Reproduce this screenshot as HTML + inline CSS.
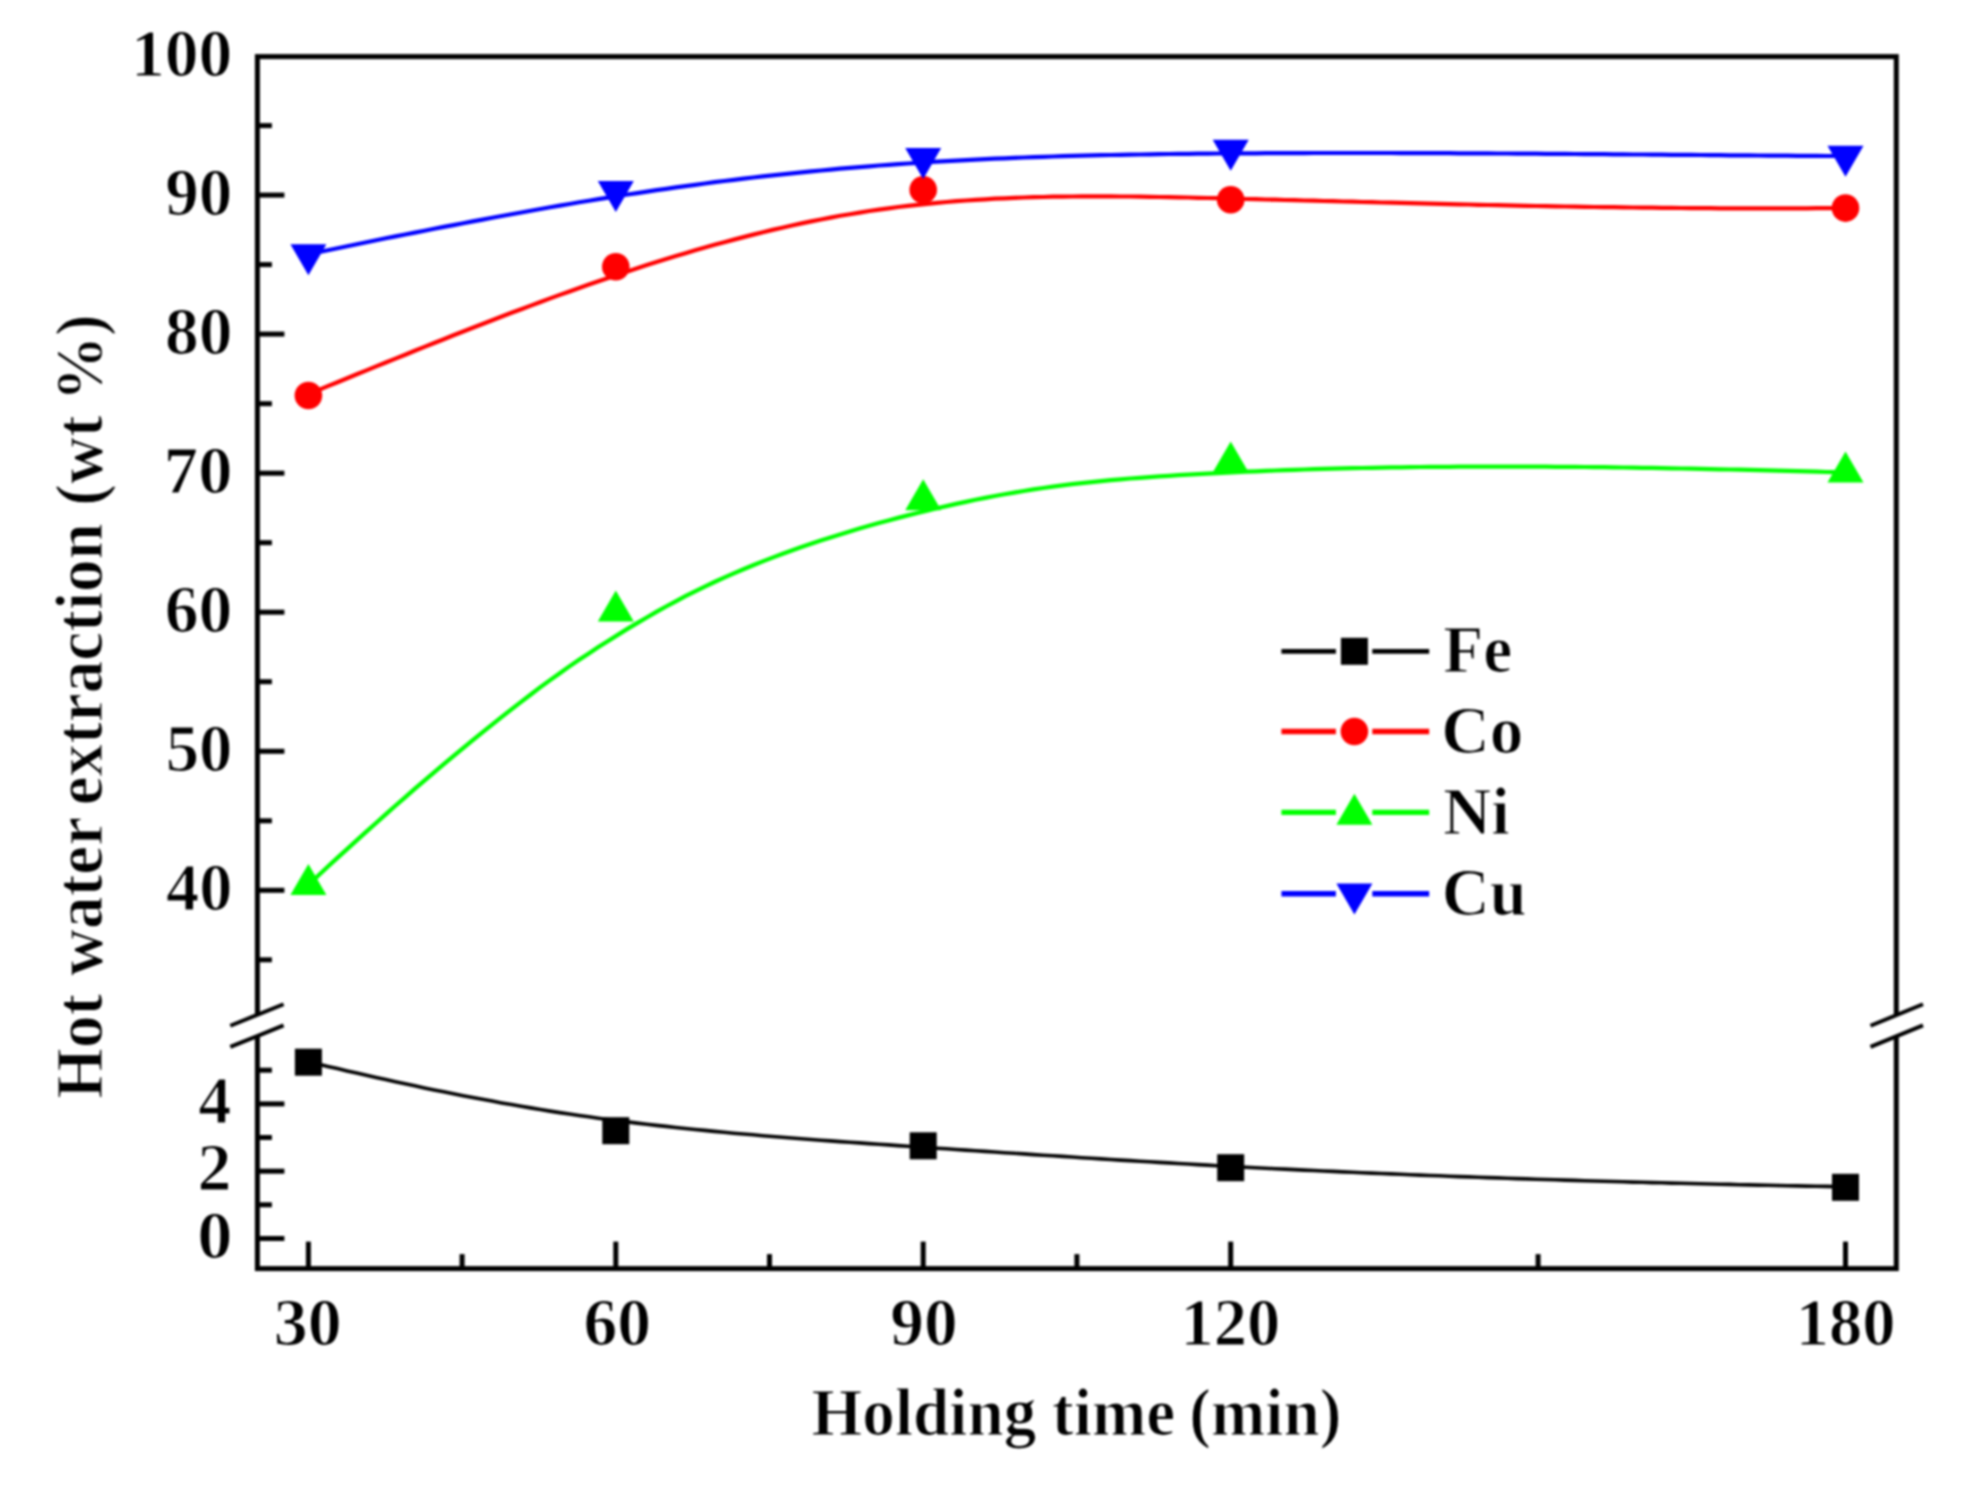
<!DOCTYPE html>
<html lang="en"><head><meta charset="utf-8"><title>Hot water extraction vs holding time</title>
<style>html,body{margin:0;padding:0;background:#fff}svg{display:block;filter:blur(0.9px)}</style></head>
<body>
<svg width="1970" height="1490" viewBox="0 0 1970 1490">
<rect width="1970" height="1490" fill="#ffffff"/>
<path d="M308.4,1061.8 L318.1,1064.1 L327.7,1066.4 L337.4,1068.6 L347.1,1070.9 L356.7,1073.1 L366.4,1075.3 L376.1,1077.4 L385.7,1079.6 L395.4,1081.7 L405.1,1083.8 L414.7,1085.8 L424.4,1087.9 L434.1,1089.9 L443.7,1091.8 L453.4,1093.8 L463.1,1095.7 L472.7,1097.5 L482.4,1099.3 L492.1,1101.1 L501.7,1102.9 L511.4,1104.6 L521.1,1106.3 L530.7,1107.9 L540.4,1109.5 L550.1,1111.1 L559.7,1112.6 L569.4,1114.0 L579.1,1115.5 L588.7,1116.8 L598.4,1118.2 L608.1,1119.5 L617.7,1120.7 L627.4,1121.9 L637.1,1123.1 L646.7,1124.3 L656.4,1125.4 L666.1,1126.4 L675.7,1127.5 L685.4,1128.5 L695.1,1129.5 L704.7,1130.4 L714.4,1131.4 L724.1,1132.3 L733.7,1133.2 L743.4,1134.0 L753.1,1134.8 L762.7,1135.7 L772.4,1136.5 L782.1,1137.2 L791.7,1138.0 L801.4,1138.7 L811.1,1139.5 L820.7,1140.2 L830.4,1140.9 L840.1,1141.6 L849.7,1142.3 L859.4,1142.9 L869.1,1143.6 L878.7,1144.3 L888.4,1144.9 L898.1,1145.6 L907.7,1146.2 L917.4,1146.9 L927.1,1147.5 L936.7,1148.2 L946.4,1148.8 L956.1,1149.5 L965.7,1150.1 L975.4,1150.8 L985.1,1151.4 L994.7,1152.0 L1004.4,1152.7 L1014.1,1153.3 L1023.7,1153.9 L1033.4,1154.6 L1043.1,1155.2 L1052.7,1155.8 L1062.4,1156.4 L1072.1,1157.0 L1081.7,1157.7 L1091.4,1158.3 L1101.1,1158.9 L1110.7,1159.5 L1120.4,1160.1 L1130.1,1160.6 L1139.7,1161.2 L1149.4,1161.8 L1159.1,1162.4 L1168.7,1162.9 L1178.4,1163.5 L1188.1,1164.0 L1197.7,1164.6 L1207.4,1165.1 L1217.1,1165.7 L1226.7,1166.2 L1236.4,1166.7 L1246.1,1167.2 L1255.7,1167.7 L1265.4,1168.2 L1275.1,1168.7 L1284.7,1169.1 L1294.4,1169.6 L1304.1,1170.1 L1313.7,1170.5 L1323.4,1171.0 L1333.1,1171.4 L1342.7,1171.9 L1352.4,1172.3 L1362.1,1172.7 L1371.7,1173.1 L1381.4,1173.5 L1391.1,1173.9 L1400.7,1174.3 L1410.4,1174.7 L1420.1,1175.1 L1429.7,1175.5 L1439.4,1175.8 L1449.1,1176.2 L1458.7,1176.6 L1468.4,1176.9 L1478.1,1177.3 L1487.7,1177.6 L1497.4,1177.9 L1507.1,1178.3 L1516.7,1178.6 L1526.4,1178.9 L1536.1,1179.2 L1545.7,1179.5 L1555.4,1179.8 L1565.1,1180.1 L1574.7,1180.4 L1584.4,1180.7 L1594.1,1181.0 L1603.7,1181.3 L1613.4,1181.5 L1623.1,1181.8 L1632.7,1182.1 L1642.4,1182.3 L1652.1,1182.6 L1661.7,1182.8 L1671.4,1183.1 L1681.1,1183.3 L1690.7,1183.5 L1700.4,1183.8 L1710.1,1184.0 L1719.7,1184.2 L1729.4,1184.4 L1739.1,1184.7 L1748.7,1184.9 L1758.4,1185.1 L1768.1,1185.3 L1777.7,1185.5 L1787.4,1185.7 L1797.1,1185.9 L1806.7,1186.1 L1816.4,1186.3 L1826.1,1186.4 L1835.7,1186.6 L1845.4,1186.8" fill="none" stroke="#000000" stroke-width="3.6" stroke-linejoin="round"/>
<rect x="294.9" y="1048.7" width="27" height="27" fill="#000000"/>
<rect x="602.3" y="1117.2" width="27" height="27" fill="#000000"/>
<rect x="909.7" y="1132.3" width="27" height="27" fill="#000000"/>
<rect x="1217.2" y="1154.2" width="27" height="27" fill="#000000"/>
<rect x="1832.0" y="1173.8" width="27" height="27" fill="#000000"/>
<path d="M308.5,394.0 L318.2,390.1 L327.8,386.1 L337.5,382.2 L347.2,378.2 L356.8,374.3 L366.5,370.4 L376.2,366.4 L385.8,362.5 L395.5,358.6 L405.2,354.7 L414.8,350.8 L424.5,346.9 L434.2,343.0 L443.8,339.2 L453.5,335.3 L463.2,331.5 L472.8,327.7 L482.5,324.0 L492.2,320.2 L501.8,316.5 L511.5,312.8 L521.2,309.2 L530.8,305.6 L540.5,302.0 L550.2,298.4 L559.8,294.9 L569.5,291.4 L579.2,288.0 L588.9,284.6 L598.5,281.2 L608.2,277.9 L617.9,274.6 L627.5,271.4 L637.2,268.2 L646.9,265.1 L656.5,262.1 L666.2,259.0 L675.9,256.1 L685.5,253.2 L695.2,250.3 L704.9,247.6 L714.5,244.8 L724.2,242.2 L733.9,239.6 L743.5,237.1 L753.2,234.6 L762.9,232.2 L772.5,229.9 L782.2,227.7 L791.9,225.5 L801.5,223.4 L811.2,221.4 L820.9,219.5 L830.5,217.6 L840.2,215.8 L849.9,214.2 L859.5,212.6 L869.2,211.0 L878.9,209.6 L888.5,208.3 L898.2,207.0 L907.9,205.9 L917.5,204.8 L927.2,203.8 L936.9,202.9 L946.5,202.0 L956.2,201.2 L965.9,200.5 L975.5,199.8 L985.2,199.3 L994.9,198.7 L1004.5,198.3 L1014.2,197.9 L1023.9,197.5 L1033.5,197.2 L1043.2,197.0 L1052.9,196.7 L1062.5,196.6 L1072.2,196.5 L1081.9,196.4 L1091.6,196.4 L1101.2,196.4 L1110.9,196.4 L1120.6,196.5 L1130.2,196.5 L1139.9,196.7 L1149.6,196.8 L1159.2,197.0 L1168.9,197.1 L1178.6,197.3 L1188.2,197.5 L1197.9,197.8 L1207.6,198.0 L1217.2,198.2 L1226.9,198.5 L1236.6,198.7 L1246.2,199.0 L1255.9,199.2 L1265.6,199.5 L1275.2,199.7 L1284.9,200.0 L1294.6,200.2 L1304.2,200.5 L1313.9,200.7 L1323.6,201.0 L1333.2,201.2 L1342.9,201.5 L1352.6,201.7 L1362.2,202.0 L1371.9,202.2 L1381.6,202.5 L1391.2,202.7 L1400.9,202.9 L1410.6,203.2 L1420.2,203.4 L1429.9,203.6 L1439.6,203.9 L1449.2,204.1 L1458.9,204.3 L1468.6,204.5 L1478.2,204.8 L1487.9,205.0 L1497.6,205.2 L1507.2,205.4 L1516.9,205.6 L1526.6,205.8 L1536.2,206.0 L1545.9,206.1 L1555.6,206.3 L1565.2,206.5 L1574.9,206.6 L1584.6,206.8 L1594.3,207.0 L1603.9,207.1 L1613.6,207.2 L1623.3,207.4 L1632.9,207.5 L1642.6,207.6 L1652.3,207.7 L1661.9,207.8 L1671.6,207.9 L1681.3,208.0 L1690.9,208.1 L1700.6,208.2 L1710.3,208.2 L1719.9,208.3 L1729.6,208.3 L1739.3,208.3 L1748.9,208.4 L1758.6,208.4 L1768.3,208.4 L1777.9,208.4 L1787.6,208.3 L1797.3,208.3 L1806.9,208.3 L1816.6,208.2 L1826.3,208.2 L1835.9,208.1 L1845.6,208.0" fill="none" stroke="#ff0000" stroke-width="4.2" stroke-linejoin="round"/>
<circle cx="308.4" cy="395.5" r="13.8" fill="#ff0000"/>
<circle cx="615.8" cy="266.7" r="13.8" fill="#ff0000"/>
<circle cx="923.2" cy="189.8" r="13.8" fill="#ff0000"/>
<circle cx="1230.7" cy="199.8" r="13.8" fill="#ff0000"/>
<circle cx="1845.5" cy="208.1" r="13.8" fill="#ff0000"/>
<path d="M308.4,884.7 L318.1,875.7 L327.7,866.8 L337.4,857.9 L347.1,849.1 L356.7,840.4 L366.4,831.6 L376.1,823.0 L385.7,814.4 L395.4,805.8 L405.1,797.4 L414.7,788.9 L424.4,780.6 L434.1,772.3 L443.8,764.2 L453.4,756.1 L463.1,748.1 L472.8,740.2 L482.4,732.4 L492.1,724.6 L501.8,716.9 L511.4,709.3 L521.1,701.9 L530.8,694.5 L540.4,687.2 L550.1,680.1 L559.8,673.2 L569.4,666.4 L579.1,659.8 L588.8,653.4 L598.4,647.1 L608.1,640.9 L617.8,634.9 L627.4,628.9 L637.1,623.1 L646.8,617.5 L656.4,611.9 L666.1,606.5 L675.8,601.3 L685.4,596.2 L695.1,591.3 L704.8,586.6 L714.5,582.0 L724.1,577.6 L733.8,573.3 L743.5,569.2 L753.1,565.2 L762.8,561.4 L772.5,557.6 L782.1,554.0 L791.8,550.5 L801.5,547.1 L811.1,543.7 L820.8,540.5 L830.5,537.4 L840.1,534.4 L849.8,531.4 L859.5,528.6 L869.1,525.8 L878.8,523.1 L888.5,520.5 L898.1,517.9 L907.8,515.4 L917.5,513.0 L927.1,510.6 L936.8,508.3 L946.5,506.1 L956.2,503.9 L965.8,501.9 L975.5,499.8 L985.2,497.9 L994.8,496.0 L1004.5,494.3 L1014.2,492.6 L1023.8,491.0 L1033.5,489.4 L1043.2,488.0 L1052.8,486.7 L1062.5,485.4 L1072.2,484.2 L1081.8,483.1 L1091.5,482.1 L1101.2,481.1 L1110.8,480.2 L1120.5,479.3 L1130.2,478.5 L1139.8,477.8 L1149.5,477.1 L1159.2,476.4 L1168.8,475.8 L1178.5,475.2 L1188.2,474.6 L1197.8,474.1 L1207.5,473.6 L1217.2,473.1 L1226.9,472.6 L1236.5,472.2 L1246.2,471.7 L1255.9,471.3 L1265.5,470.9 L1275.2,470.5 L1284.9,470.2 L1294.5,469.9 L1304.2,469.5 L1313.9,469.2 L1323.5,468.9 L1333.2,468.7 L1342.9,468.4 L1352.5,468.2 L1362.2,468.0 L1371.9,467.8 L1381.5,467.6 L1391.2,467.4 L1400.9,467.3 L1410.5,467.2 L1420.2,467.0 L1429.9,466.9 L1439.5,466.8 L1449.2,466.8 L1458.9,466.7 L1468.6,466.6 L1478.2,466.6 L1487.9,466.6 L1497.6,466.6 L1507.2,466.6 L1516.9,466.6 L1526.6,466.6 L1536.2,466.7 L1545.9,466.7 L1555.6,466.8 L1565.2,466.8 L1574.9,466.9 L1584.6,467.0 L1594.2,467.1 L1603.9,467.2 L1613.6,467.4 L1623.2,467.5 L1632.9,467.6 L1642.6,467.8 L1652.2,467.9 L1661.9,468.1 L1671.6,468.3 L1681.2,468.5 L1690.9,468.7 L1700.6,468.9 L1710.2,469.1 L1719.9,469.3 L1729.6,469.5 L1739.3,469.7 L1748.9,469.9 L1758.6,470.2 L1768.3,470.4 L1777.9,470.7 L1787.6,470.9 L1797.3,471.2 L1806.9,471.4 L1816.6,471.7 L1826.3,472.0 L1835.9,472.2 L1845.6,472.5" fill="none" stroke="#00ff00" stroke-width="4.2" stroke-linejoin="round"/>
<polygon points="308.4,864.0 290.4,895.0 326.4,895.0" fill="#00ff00"/>
<polygon points="615.8,590.6 597.8,621.6 633.8,621.6" fill="#00ff00"/>
<polygon points="923.2,479.3 905.2,510.3 941.2,510.3" fill="#00ff00"/>
<polygon points="1230.7,441.6 1212.7,472.6 1248.7,472.6" fill="#00ff00"/>
<polygon points="1845.5,451.5 1827.5,482.5 1863.5,482.5" fill="#00ff00"/>
<path d="M308.5,254.2 L318.2,252.2 L327.8,250.2 L337.5,248.2 L347.2,246.2 L356.8,244.2 L366.5,242.2 L376.2,240.3 L385.8,238.3 L395.5,236.4 L405.2,234.5 L414.8,232.6 L424.5,230.7 L434.2,228.8 L443.8,226.9 L453.5,225.1 L463.2,223.2 L472.8,221.4 L482.5,219.6 L492.2,217.8 L501.8,216.0 L511.5,214.2 L521.2,212.5 L530.8,210.7 L540.5,209.0 L550.2,207.3 L559.8,205.6 L569.5,204.0 L579.2,202.3 L588.9,200.7 L598.5,199.1 L608.2,197.6 L617.9,196.0 L627.5,194.5 L637.2,193.1 L646.9,191.6 L656.5,190.2 L666.2,188.8 L675.9,187.4 L685.5,186.1 L695.2,184.8 L704.9,183.5 L714.5,182.2 L724.2,181.0 L733.9,179.8 L743.5,178.7 L753.2,177.5 L762.9,176.4 L772.5,175.4 L782.2,174.3 L791.9,173.3 L801.5,172.3 L811.2,171.4 L820.9,170.5 L830.5,169.6 L840.2,168.7 L849.9,167.9 L859.5,167.1 L869.2,166.3 L878.9,165.5 L888.5,164.8 L898.2,164.1 L907.9,163.5 L917.5,162.8 L927.2,162.2 L936.9,161.6 L946.5,161.1 L956.2,160.6 L965.9,160.1 L975.5,159.6 L985.2,159.1 L994.9,158.7 L1004.5,158.3 L1014.2,157.9 L1023.9,157.5 L1033.5,157.2 L1043.2,156.8 L1052.9,156.5 L1062.5,156.2 L1072.2,155.9 L1081.9,155.7 L1091.6,155.4 L1101.2,155.2 L1110.9,155.0 L1120.6,154.8 L1130.2,154.6 L1139.9,154.5 L1149.6,154.3 L1159.2,154.2 L1168.9,154.0 L1178.6,153.9 L1188.2,153.8 L1197.9,153.7 L1207.6,153.6 L1217.2,153.5 L1226.9,153.4 L1236.6,153.4 L1246.2,153.3 L1255.9,153.3 L1265.6,153.2 L1275.2,153.2 L1284.9,153.1 L1294.6,153.1 L1304.2,153.1 L1313.9,153.0 L1323.6,153.0 L1333.2,153.0 L1342.9,153.0 L1352.6,153.0 L1362.2,153.0 L1371.9,153.0 L1381.6,153.0 L1391.2,153.0 L1400.9,153.1 L1410.6,153.1 L1420.2,153.1 L1429.9,153.1 L1439.6,153.2 L1449.2,153.2 L1458.9,153.3 L1468.6,153.3 L1478.2,153.4 L1487.9,153.4 L1497.6,153.5 L1507.2,153.5 L1516.9,153.6 L1526.6,153.7 L1536.2,153.7 L1545.9,153.8 L1555.6,153.9 L1565.2,153.9 L1574.9,154.0 L1584.6,154.1 L1594.3,154.1 L1603.9,154.2 L1613.6,154.3 L1623.3,154.4 L1632.9,154.5 L1642.6,154.5 L1652.3,154.6 L1661.9,154.7 L1671.6,154.8 L1681.3,154.9 L1690.9,154.9 L1700.6,155.0 L1710.3,155.1 L1719.9,155.2 L1729.6,155.3 L1739.3,155.3 L1748.9,155.4 L1758.6,155.5 L1768.3,155.6 L1777.9,155.6 L1787.6,155.7 L1797.3,155.8 L1806.9,155.9 L1816.6,155.9 L1826.3,156.0 L1835.9,156.0 L1845.6,156.1" fill="none" stroke="#0000ff" stroke-width="4.2" stroke-linejoin="round"/>
<polygon points="308.4,275.2 290.4,244.2 326.4,244.2" fill="#0000ff"/>
<polygon points="615.8,212.1 597.8,181.1 633.8,181.1" fill="#0000ff"/>
<polygon points="923.2,178.9 905.2,147.9 941.2,147.9" fill="#0000ff"/>
<polygon points="1230.7,170.8 1212.7,139.8 1248.7,139.8" fill="#0000ff"/>
<polygon points="1845.5,176.7 1827.5,145.7 1863.5,145.7" fill="#0000ff"/>
<rect x="257.4" y="56.6" width="1638.9" height="1212.0" fill="none" stroke="#000000" stroke-width="5"/>
<rect x="251.39999999999998" y="1014" width="12" height="23" fill="#fff"/>
<rect x="1890.3" y="1014" width="12" height="23" fill="#fff"/>
<line x1="230.3" y1="1025.7" x2="283.6" y2="1004.3" stroke="#000000" stroke-width="3.9"/>
<line x1="230.3" y1="1046.9" x2="283.6" y2="1025.4" stroke="#000000" stroke-width="3.9"/>
<line x1="1870.5" y1="1025.7" x2="1923.0" y2="1004.3" stroke="#000000" stroke-width="3.9"/>
<line x1="1870.5" y1="1046.9" x2="1923.0" y2="1025.4" stroke="#000000" stroke-width="3.9"/>
<line x1="257.4" y1="890.3" x2="284.4" y2="890.3" stroke="#000000" stroke-width="5"/>
<line x1="257.4" y1="751.3" x2="284.4" y2="751.3" stroke="#000000" stroke-width="5"/>
<line x1="257.4" y1="612.2" x2="284.4" y2="612.2" stroke="#000000" stroke-width="5"/>
<line x1="257.4" y1="473.2" x2="284.4" y2="473.2" stroke="#000000" stroke-width="5"/>
<line x1="257.4" y1="334.1" x2="284.4" y2="334.1" stroke="#000000" stroke-width="5"/>
<line x1="257.4" y1="195.1" x2="284.4" y2="195.1" stroke="#000000" stroke-width="5"/>
<line x1="257.4" y1="959.8" x2="271.9" y2="959.8" stroke="#000000" stroke-width="5"/>
<line x1="257.4" y1="820.8" x2="271.9" y2="820.8" stroke="#000000" stroke-width="5"/>
<line x1="257.4" y1="681.7" x2="271.9" y2="681.7" stroke="#000000" stroke-width="5"/>
<line x1="257.4" y1="542.7" x2="271.9" y2="542.7" stroke="#000000" stroke-width="5"/>
<line x1="257.4" y1="403.7" x2="271.9" y2="403.7" stroke="#000000" stroke-width="5"/>
<line x1="257.4" y1="264.6" x2="271.9" y2="264.6" stroke="#000000" stroke-width="5"/>
<line x1="257.4" y1="125.6" x2="271.9" y2="125.6" stroke="#000000" stroke-width="5"/>
<line x1="257.4" y1="1238.5" x2="284.4" y2="1238.5" stroke="#000000" stroke-width="5"/>
<line x1="257.4" y1="1171.2" x2="284.4" y2="1171.2" stroke="#000000" stroke-width="5"/>
<line x1="257.4" y1="1103.9" x2="284.4" y2="1103.9" stroke="#000000" stroke-width="5"/>
<line x1="257.4" y1="1204.8" x2="271.9" y2="1204.8" stroke="#000000" stroke-width="5"/>
<line x1="257.4" y1="1137.5" x2="271.9" y2="1137.5" stroke="#000000" stroke-width="5"/>
<line x1="257.4" y1="1070.2" x2="271.9" y2="1070.2" stroke="#000000" stroke-width="5"/>
<line x1="308.4" y1="1268.6" x2="308.4" y2="1241.6" stroke="#000000" stroke-width="5"/>
<line x1="615.8" y1="1268.6" x2="615.8" y2="1241.6" stroke="#000000" stroke-width="5"/>
<line x1="923.2" y1="1268.6" x2="923.2" y2="1241.6" stroke="#000000" stroke-width="5"/>
<line x1="1230.7" y1="1268.6" x2="1230.7" y2="1241.6" stroke="#000000" stroke-width="5"/>
<line x1="1845.5" y1="1268.6" x2="1845.5" y2="1241.6" stroke="#000000" stroke-width="5"/>
<line x1="462.1" y1="1268.6" x2="462.1" y2="1254.1" stroke="#000000" stroke-width="5"/>
<line x1="769.5" y1="1268.6" x2="769.5" y2="1254.1" stroke="#000000" stroke-width="5"/>
<line x1="1076.9" y1="1268.6" x2="1076.9" y2="1254.1" stroke="#000000" stroke-width="5"/>
<line x1="1538.1" y1="1268.6" x2="1538.1" y2="1254.1" stroke="#000000" stroke-width="5"/>
<text transform="translate(130.99,76.06) scale(1.0094,1)" font-family="Liberation Serif, serif" font-weight="bold" stroke="#ffffff" stroke-width="1.2" font-size="67">100</text>
<text transform="translate(165.25,215.10) scale(1.0025,1)" font-family="Liberation Serif, serif" font-weight="bold" stroke="#ffffff" stroke-width="1.2" font-size="67">90</text>
<text transform="translate(164.91,354.14) scale(1.0079,1)" font-family="Liberation Serif, serif" font-weight="bold" stroke="#ffffff" stroke-width="1.2" font-size="67">80</text>
<text transform="translate(163.85,493.18) scale(1.0242,1)" font-family="Liberation Serif, serif" font-weight="bold" stroke="#ffffff" stroke-width="1.2" font-size="67">70</text>
<text transform="translate(164.73,632.22) scale(1.0106,1)" font-family="Liberation Serif, serif" font-weight="bold" stroke="#ffffff" stroke-width="1.2" font-size="67">60</text>
<text transform="translate(165.63,771.26) scale(0.9966,1)" font-family="Liberation Serif, serif" font-weight="bold" stroke="#ffffff" stroke-width="1.2" font-size="67">50</text>
<text transform="translate(165.97,910.30) scale(0.9914,1)" font-family="Liberation Serif, serif" font-weight="bold" stroke="#ffffff" stroke-width="1.2" font-size="67">40</text>
<text transform="translate(198.27,1123.16) scale(0.9876,1)" font-family="Liberation Serif, serif" font-weight="bold" stroke="#ffffff" stroke-width="1.2" font-size="67">4</text>
<text transform="translate(197.61,1190.48) scale(1.0142,1)" font-family="Liberation Serif, serif" font-weight="bold" stroke="#ffffff" stroke-width="1.2" font-size="67">2</text>
<text transform="translate(197.35,1257.80) scale(1.0536,1)" font-family="Liberation Serif, serif" font-weight="bold" stroke="#ffffff" stroke-width="1.2" font-size="67">0</text>
<text transform="translate(273.75,1344.80) scale(1.0133,1)" font-family="Liberation Serif, serif" font-weight="bold" stroke="#ffffff" stroke-width="1.2" font-size="67">30</text>
<text transform="translate(583.43,1344.80) scale(1.0106,1)" font-family="Liberation Serif, serif" font-weight="bold" stroke="#ffffff" stroke-width="1.2" font-size="67">60</text>
<text transform="translate(890.25,1344.80) scale(1.0057,1)" font-family="Liberation Serif, serif" font-weight="bold" stroke="#ffffff" stroke-width="1.2" font-size="67">90</text>
<text transform="translate(1180.58,1344.80) scale(0.9932,1)" font-family="Liberation Serif, serif" font-weight="bold" stroke="#ffffff" stroke-width="1.2" font-size="67">120</text>
<text transform="translate(1795.67,1344.80) scale(0.9943,1)" font-family="Liberation Serif, serif" font-weight="bold" stroke="#ffffff" stroke-width="1.2" font-size="67">180</text>
<text transform="translate(0,1435) scale(0.9735,1)" font-family="Liberation Serif, serif" font-weight="bold" stroke="#ffffff" stroke-width="1.2" font-size="67"><tspan x="833.65">Holding</tspan> <tspan x="1080.76">time</tspan> <tspan x="1221.60">(min)</tspan></text>
<text transform="translate(102.3,0) rotate(-90) scale(0.9721,1)" font-family="Liberation Serif, serif" font-weight="bold" stroke="#ffffff" stroke-width="1.2" font-size="67"><tspan x="-1130.17">Hot</tspan> <tspan x="-1003.95">water</tspan> <tspan x="-828.43">extraction</tspan> <tspan x="-520.24">(wt</tspan> <tspan x="-412.60">%)</tspan></text>
<line x1="1281.4" y1="651.3" x2="1335.9" y2="651.3" stroke="#000000" stroke-width="4.8"/>
<line x1="1372.3000000000002" y1="651.3" x2="1429.2" y2="651.3" stroke="#000000" stroke-width="4.8"/>
<rect x="1340.9" y="637.8" width="27" height="27" fill="#000000"/>
<text transform="translate(1443.36,672.40) scale(0.9753,1)" font-family="Liberation Serif, serif" font-weight="bold" stroke="#ffffff" stroke-width="1.2" font-size="67">Fe</text>
<line x1="1281.4" y1="731.5" x2="1335.9" y2="731.5" stroke="#ff0000" stroke-width="5.4"/>
<line x1="1372.3000000000002" y1="731.5" x2="1429.2" y2="731.5" stroke="#ff0000" stroke-width="5.4"/>
<circle cx="1354.4" cy="731.5" r="13.8" fill="#ff0000"/>
<text transform="translate(1441.31,753.30) scale(1.0025,1)" font-family="Liberation Serif, serif" font-weight="bold" stroke="#ffffff" stroke-width="1.2" font-size="67">Co</text>
<line x1="1281.4" y1="812.4" x2="1335.9" y2="812.4" stroke="#00ff00" stroke-width="5.4"/>
<line x1="1372.3000000000002" y1="812.4" x2="1429.2" y2="812.4" stroke="#00ff00" stroke-width="5.4"/>
<polygon points="1354.4,793.7 1336.4,824.7 1372.4,824.7" fill="#00ff00"/>
<text transform="translate(1443.07,834.40) scale(0.9961,1)" font-family="Liberation Serif, serif" font-weight="bold" stroke="#ffffff" stroke-width="1.2" font-size="67">Ni</text>
<line x1="1281.4" y1="893.8" x2="1335.9" y2="893.8" stroke="#0000ff" stroke-width="5.4"/>
<line x1="1372.3000000000002" y1="893.8" x2="1429.2" y2="893.8" stroke="#0000ff" stroke-width="5.4"/>
<polygon points="1354.4,914.5 1336.4,883.5 1372.4,883.5" fill="#0000ff"/>
<text transform="translate(1441.85,915.30) scale(0.9897,1)" font-family="Liberation Serif, serif" font-weight="bold" stroke="#ffffff" stroke-width="1.2" font-size="67">Cu</text>
</svg>
</body></html>
